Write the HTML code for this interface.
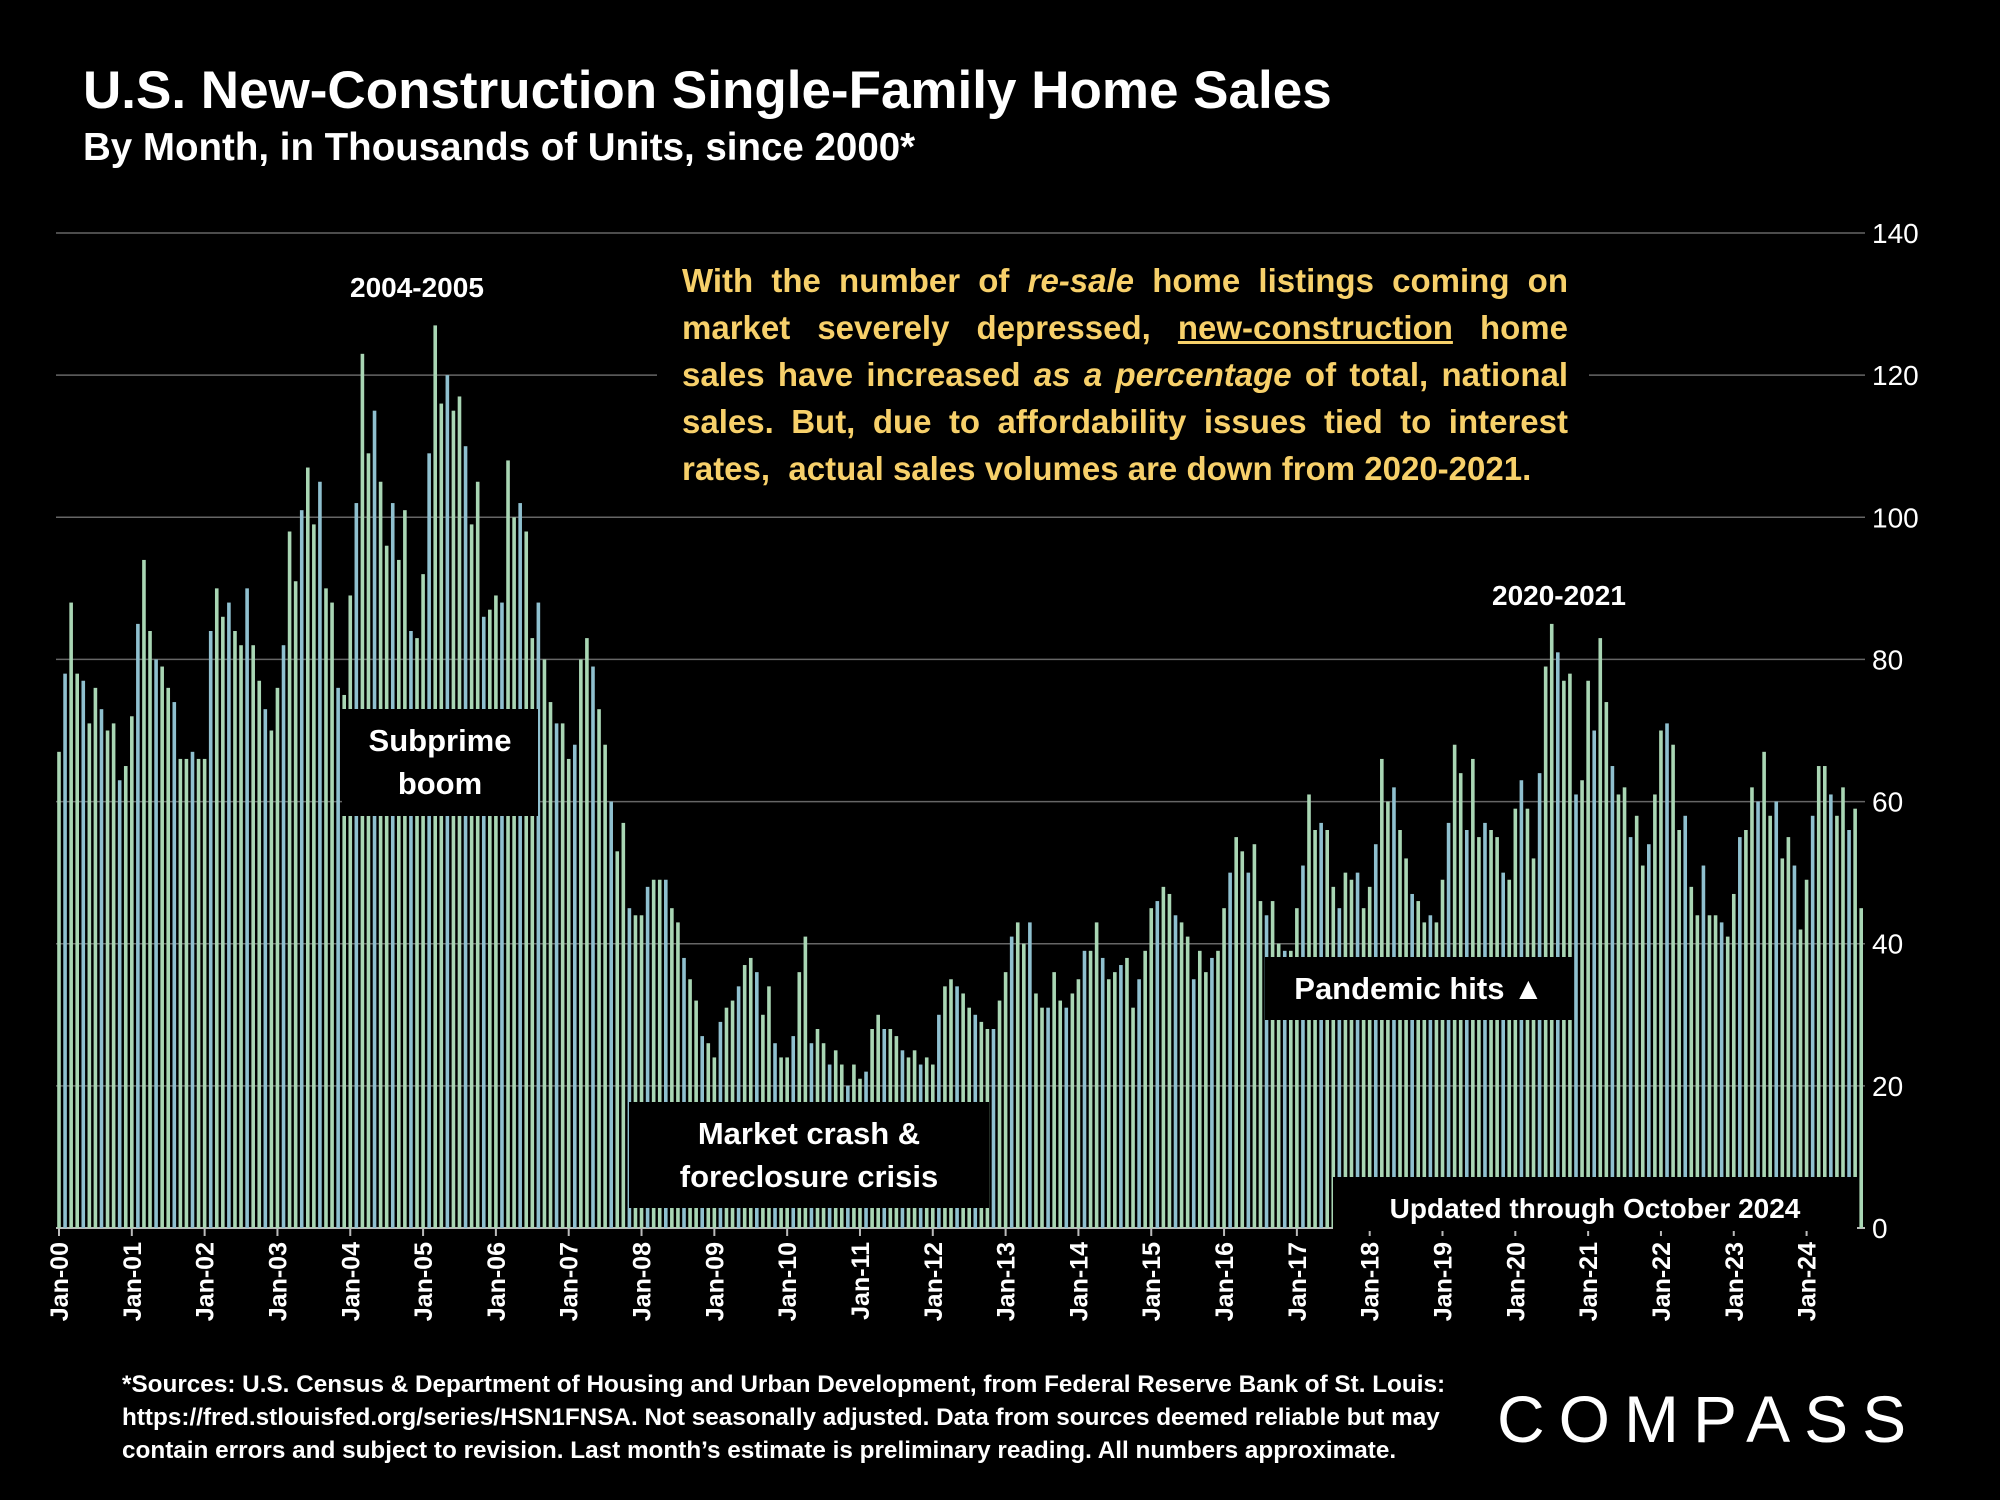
<!DOCTYPE html>
<html><head><meta charset="utf-8"><style>
html,body{margin:0;padding:0;background:#000;}
body{width:2000px;height:1500px;overflow:hidden;position:relative;font-family:"Liberation Sans",sans-serif;color:#fff;}
.t{position:absolute;font-weight:bold;white-space:nowrap;}
.box{position:absolute;background:#000;}
</style></head><body>
<div class="t" style="left:83px;top:60px;font-size:53px;">U.S. New-Construction Single-Family Home Sales</div>
<div class="t" style="left:83px;top:126px;font-size:38.5px;">By Month, in Thousands of Units, since 2000*</div>
<svg id="chart" width="2000" height="1500" style="position:absolute;left:0;top:0;"></svg>
<div class="box" style="left:657px;top:252px;width:932px;height:250px;"></div>
<div style="position:absolute;left:682px;top:257px;width:886px;font-size:33px;line-height:47px;font-weight:bold;color:#f7d06a;text-align:justify;text-align-last:left;">With the number of <i>re-sale</i> home listings coming on market severely depressed, <u>new-construction</u> home sales have increased <i>as a percentage</i> of total, national sales. But, due to affordability issues tied to interest rates,&nbsp; actual sales volumes are down from 2020-2021.</div>
<div class="t" style="left:350px;top:272px;font-size:28px;">2004-2005</div>
<div class="t" style="left:1492px;top:580px;font-size:28px;">2020-2021</div>
<div class="box" style="left:342px;top:709px;width:196px;height:107px;font-size:31px;font-weight:bold;text-align:center;line-height:43px;padding-top:10px;box-sizing:border-box;">Subprime<br>boom</div>
<div class="box" style="left:629px;top:1102px;width:360px;height:106px;font-size:31px;font-weight:bold;text-align:center;line-height:43px;padding-top:10px;box-sizing:border-box;">Market crash &amp;<br>foreclosure crisis</div>
<div class="box" style="left:1265px;top:957px;width:308px;height:63px;font-size:31px;font-weight:bold;text-align:center;line-height:63px;">Pandemic hits ▲</div>
<div class="box" style="left:1333px;top:1177px;width:524px;height:54px;font-size:28px;font-weight:bold;text-align:center;line-height:64px;">Updated through October 2024</div>
<div style="position:absolute;left:122px;top:1368px;font-size:24.3px;line-height:33px;font-weight:bold;white-space:nowrap;">*Sources: U.S. Census &amp; Department of Housing and Urban Development, from Federal Reserve Bank of St. Louis:<br>https://fred.stlouisfed.org/series/HSN1FNSA. Not seasonally adjusted. Data from sources deemed reliable but may<br>contain errors and subject to revision. Last month’s estimate is preliminary reading. All numbers approximate.</div>
<div style="position:absolute;left:1497px;top:1381px;font-size:66px;letter-spacing:14px;font-weight:normal;">COMPASS</div>
<script>
const years = ["00","01","02","03","04","05","06","07","08","09","10","11","12","13","14","15","16","17","18","19","20","21","22","23","24"];
const yTicks = [0,20,40,60,80,100,120,140];
const sales = [
67,78,88,78,77,71,76,73,70,71,63,65,
72,85,94,84,80,79,76,74,66,66,67,66,
66,84,90,86,88,84,82,90,82,77,73,70,
76,82,98,91,101,107,99,105,90,88,76,75,
89,102,123,109,115,105,96,102,94,101,84,83,
92,109,127,116,120,115,117,110,99,105,86,87,
89,88,108,100,102,98,83,88,80,74,71,71,
66,68,80,83,79,73,68,60,53,57,45,44,
44,48,49,49,49,45,43,38,35,32,27,26,
24,29,31,32,34,37,38,36,30,34,26,24,
24,27,36,41,26,28,26,23,25,23,20,23,
21,22,28,30,28,28,27,25,24,25,23,24,
23,30,34,35,34,33,31,30,29,28,28,32,
36,41,43,40,43,33,31,31,36,32,31,33,
35,39,39,43,38,35,36,37,38,31,35,39,
45,46,48,47,44,43,41,35,39,36,38,39,
45,50,55,53,50,54,46,44,46,40,39,39,
45,51,61,56,57,56,48,45,50,49,50,45,
48,54,66,60,62,56,52,47,46,43,44,43,
49,57,68,64,56,66,55,57,56,55,50,49,
59,63,59,52,64,79,85,81,77,78,61,63,
77,70,83,74,65,61,62,55,58,51,54,61,
70,71,68,56,58,48,44,51,44,44,43,41,
47,55,56,62,60,67,58,60,52,55,51,42,
49,58,65,65,61,58,62,56,59,45
];
const NS="http://www.w3.org/2000/svg";
const svg=document.getElementById('chart');
const X0=56, X1=1857, Y0=1228, Y140=233, step=6.068;
const y=v=>Y0-(v/140)*(Y0-Y140);
const x=i=>X0+3+i*step;
function mk(tag,attrs){const e=document.createElementNS(NS,tag);for(const k in attrs)e.setAttribute(k,attrs[k]);svg.appendChild(e);return e;}
yTicks.forEach(t=>{
  const g=mk('line',{x1:X0,x2:X1+8,y1:y(t),y2:y(t),stroke:t===0?'#bbb':'#666','stroke-width':t===0?2:1.5});
  
  
  const l=mk('text',{x:1872,y:y(t)+10,fill:'#fff','font-size':28,'font-family':'Liberation Sans, sans-serif'});
  l.textContent=t;
  
  
});
sales.forEach((v,i)=>{
  const r=mk('rect',{x:x(i)-1.8,y:y(v),width:3.6,height:Y0-y(v),fill:(i%3===1)?'#8fc0cf':'#a9d6b4'});
  
  
});
years.forEach((yr,k)=>{
  const xi=x(k*12);
  const tk=mk('line',{x1:xi,x2:xi,y1:Y0,y2:Y0+8,stroke:'#bbb','stroke-width':2});
  
  
  const t=mk('text',{x:0,y:0,fill:'#fff','font-size':25,'font-weight':'bold','font-family':'Liberation Sans, sans-serif','text-anchor':'end',transform:`translate(${xi+9},${Y0+14}) rotate(-90)`});
  t.textContent='Jan-'+yr;
  
  
});
</script>
</body></html>
